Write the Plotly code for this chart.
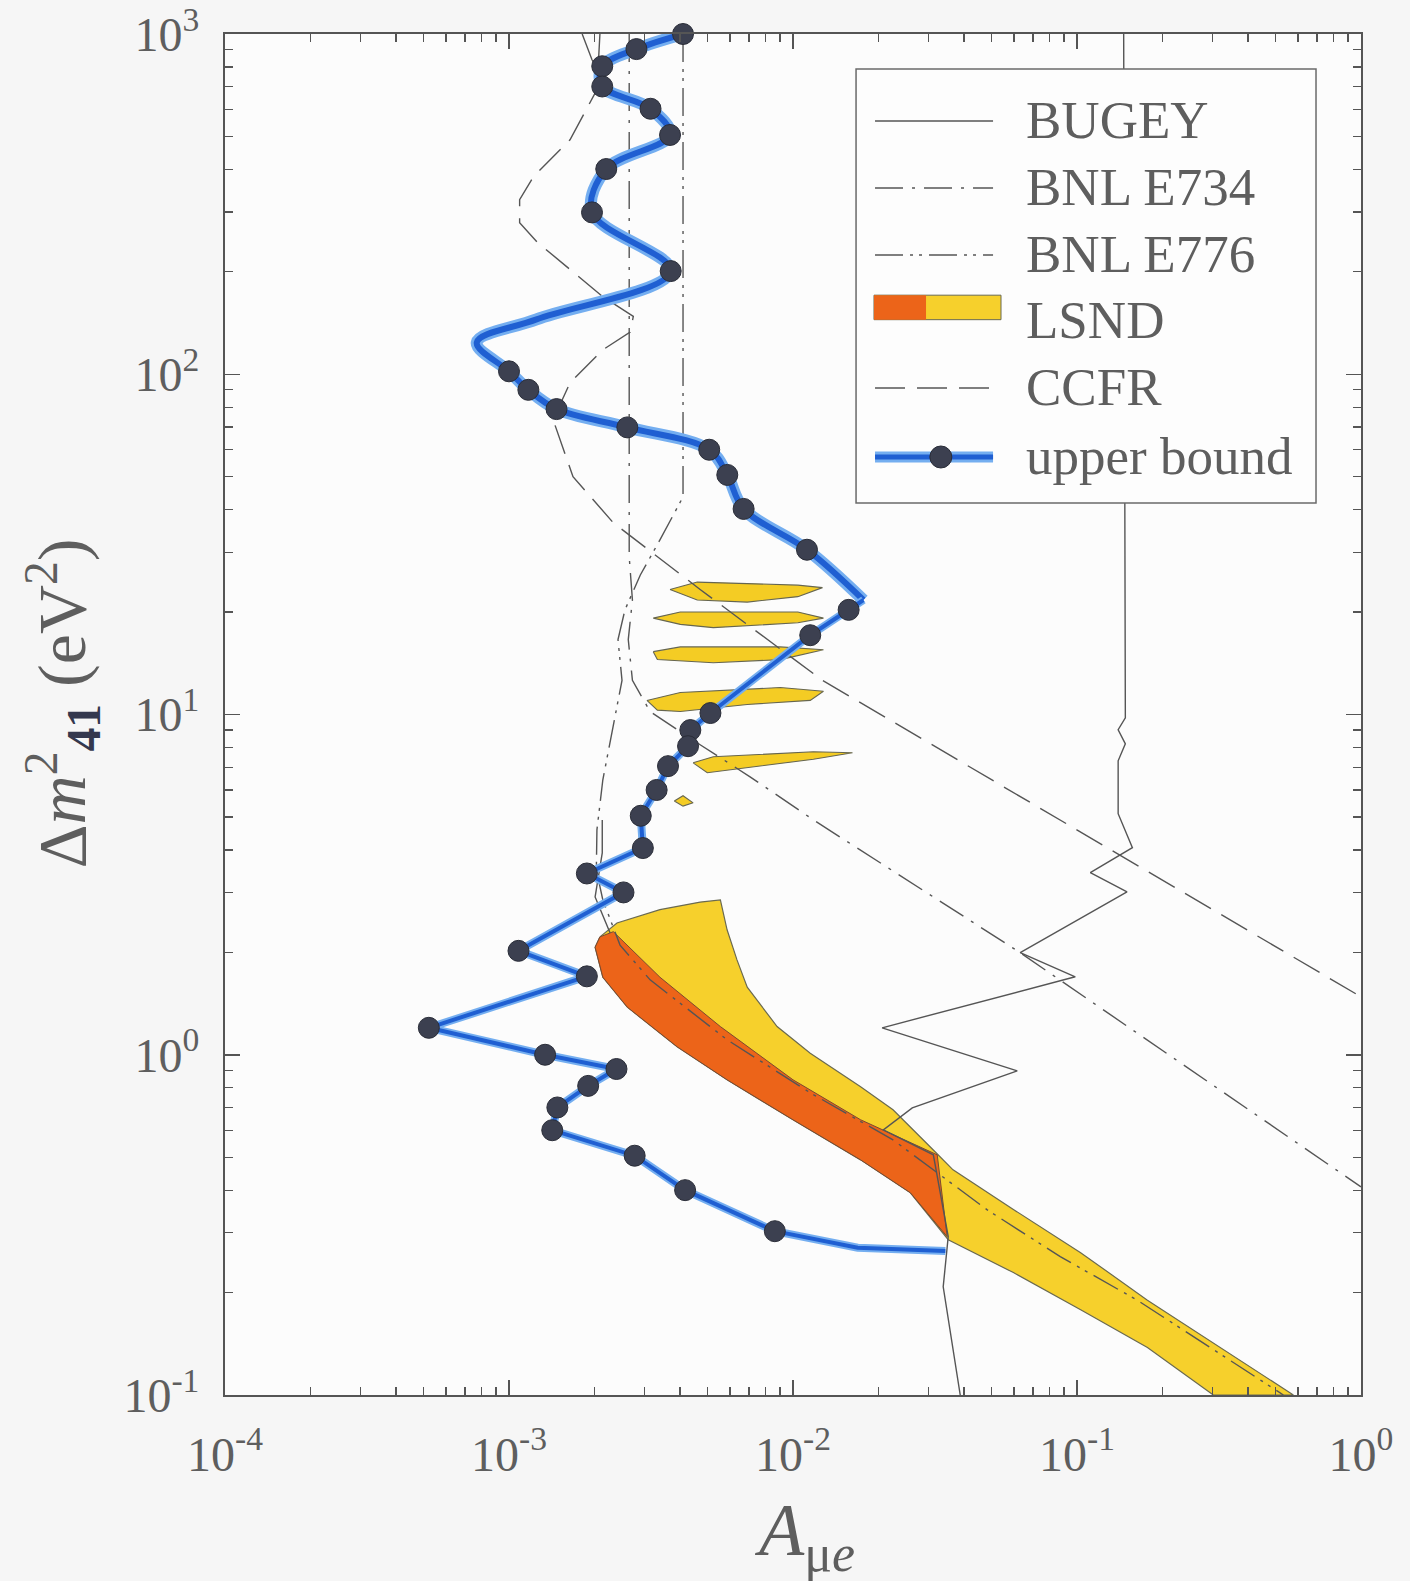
import plotly.graph_objects as go

# ---------------- axis ticks ----------------
x_tick_vals = [1e-4, 1e-3, 1e-2, 1e-1, 1e0]
x_tick_text = ["10<sup>-4</sup>", "10<sup>-3</sup>", "10<sup>-2</sup>", "10<sup>-1</sup>", "10<sup>0</sup>"]
y_tick_vals = [1e-1, 1e0, 1e1, 1e2, 1e3]
y_tick_text = ["10<sup>-1</sup>", "10<sup>0</sup>", "10<sup>1</sup>", "10<sup>2</sup>", "10<sup>3</sup>"]

legend_labels = ["BUGEY", "BNL E734", "BNL E776", "LSND", "CCFR", "upper bound"]

# ---------------- BUGEY (solid) ----------------
bugey_x = [1.81e-3, 1.96e-3, 2.08e-3, None,
           2.13e-3, 2.13e-3, 2.01e-3, 2.27e-3, None,
           0.146, 0.148, 0.1396, 0.148, 0.1396, 0.1396, 0.1567, 0.1114, 0.150,
           0.0631, 0.0986, 0.0206, 0.0616, 0.0263, 0.0208, 0.0312, 0.0352, 0.0338, 0.0388]
bugey_y = [1000, 840, 775, None,
           4.90, 3.92, 2.91, 2.28, None,
           1000, 9.78, 9.02, 8.2, 7.31, 5.11, 4.06, 3.43, 3.01,
           1.995, 1.695, 1.20, 0.897, 0.698, 0.601, 0.508, 0.292, 0.208, 0.1]

# ---------------- BNL E734 (dash-dot) ----------------
e734_x = [2.65e-3, 2.65e-3, 2.72e-3, 2.63e-3, 2.72e-3, 3.14e-3, 4.71e-3, 7.06e-3, 1.18e-2, 6.31e-2, 1.0]
e734_y = [1000, 29.1, 21.7, 16.6, 12.6, 10.2, 8.15, 6.56, 4.90, 1.995, 0.409]

# ---------------- BNL E776 (dash-dot-dot) ----------------
e776_x = [4.10e-3, 4.10e-3, 3.40e-3, 2.90e-3, 2.56e-3, 2.42e-3, 2.50e-3, 2.31e-3, 2.14e-3, 2.04e-3,
          2.03e-3, 2.14e-3, 2.46e-3, 3.14e-3, 5.86e-3, 1.15e-2, 2.25e-2, 4.83e-2, 8.73e-2, 0.163, 0.295, 0.533]
e776_y = [1000, 43.6, 32.6, 25.7, 20.3, 16.6, 12.6, 9.02, 6.43, 4.58,
          3.49, 2.85, 2.10, 1.66, 1.107, 0.773, 0.562, 0.350, 0.255, 0.190, 0.138, 0.1]

# ---------------- CCFR (dashed) ----------------
ccfr_x = [2.09e-3, 2.04e-3, 1.64e-3, 1.22e-3, 1.09e-3, 1.09e-3, 1.26e-3, 1.64e-3, 2.14e-3, 2.74e-3,
          2.67e-3, 2.14e-3, 1.64e-3, 1.43e-3, 1.68e-3, 2.33e-3, 4.71e-3, 1.27e-2, 5.37e-2, 0.272, 1.0]
ccfr_y = [1000, 686, 489, 381, 326, 279, 244, 203, 169, 148,
          133, 118, 94.4, 73.5, 50.0, 36.6, 23.3, 12.6, 6.21, 2.81, 1.48]

# ---------------- LSND regions ----------------
lsnd99_x = [2.09e-3, 2.40e-3, 3.40e-3, 4.71e-3, 5.55e-3, 5.86e-3, 6.35e-3, 6.90e-3, 8.79e-3, 1.15e-2,
            1.73e-2, 2.25e-2, 3.12e-2, 3.66e-2, 5.97e-2, 0.103, 0.177, 0.302, 0.578, 0.302,
            0.177, 0.103, 5.97e-2, 3.52e-2, 2.59e-2, 1.73e-2, 1.00e-2, 5.86e-3, 3.91e-3, 2.61e-3,
            2.14e-3, 2.01e-3, 2.09e-3]
lsnd99_y = [2.22, 2.44, 2.67, 2.81, 2.85, 2.33, 1.90, 1.58, 1.21, 1.01,
            0.805, 0.689, 0.525, 0.459, 0.351, 0.262, 0.190, 0.142, 0.1, 0.1,
            0.138, 0.178, 0.229, 0.286, 0.393, 0.491, 0.644, 0.844, 1.055, 1.38,
            1.69, 2.07, 2.22]

lsnd90_x = [2.09e-3, 2.33e-3, 3.40e-3, 5.55e-3, 1.00e-2, 1.73e-2, 3.22e-2, 3.49e-2, 2.59e-2, 1.73e-2,
            1.00e-2, 5.86e-3, 3.91e-3, 2.61e-3, 2.14e-3, 2.01e-3, 2.09e-3]
lsnd90_y = [2.22, 2.30, 1.69, 1.21, 0.844, 0.644, 0.508, 0.292, 0.393, 0.491,
            0.644, 0.844, 1.055, 1.38, 1.69, 2.07, 2.22]

island_x = [
    [3.69e-3, 4.60e-3, 1.04e-2, 1.27e-2, 1.04e-2, 6.90e-3, 4.60e-3, 3.69e-3],
    [3.22e-3, 4.01e-3, 1.04e-2, 1.28e-2, 1.04e-2, 5.24e-3, 4.01e-3, 3.22e-3],
    [3.22e-3, 4.01e-3, 9.02e-3, 1.28e-2, 9.02e-3, 5.24e-3, 3.33e-3, 3.22e-3],
    [3.06e-3, 4.01e-3, 9.02e-3, 1.28e-2, 1.15e-2, 6.90e-3, 4.01e-3, 3.33e-3, 3.06e-3],
    [4.45e-3, 5.24e-3, 1.18e-2, 1.62e-2, 1.18e-2, 6.01e-3, 4.99e-3, 4.45e-3],
    [3.82e-3, 4.10e-3, 4.45e-3, 4.10e-3, 3.82e-3],
]
island_y = [
    [23.3, 24.5, 24.0, 23.6, 22.2, 21.4, 21.7, 23.3],
    [19.2, 20.0, 20.0, 19.2, 18.6, 18.0, 18.4, 19.2],
    [15.3, 15.8, 15.8, 15.5, 14.5, 14.2, 14.5, 15.3],
    [11.0, 11.6, 12.0, 11.7, 11.0, 10.7, 10.2, 10.3, 11.0],
    [7.21, 7.51, 7.77, 7.72, 7.39, 6.87, 6.74, 7.21],
    [5.57, 5.77, 5.50, 5.38, 5.57],
]

# ---------------- upper bound (blue, with dots) ----------------
ub_x = [4.1e-3, 2.81e-3, 2.13e-3, 2.13e-3, 3.15e-3, 3.69e-3, 2.2e-3, 1.96e-3, 3.71e-3, 1.25e-3,
        7.7e-4, 1.0e-3, 1.17e-3, 1.47e-3, 2.61e-3, 5.07e-3, 5.87e-3, 6.7e-3, 1.12e-2, 1.77e-2,
        1.57e-2, 1.15e-2, 5.12e-3, 4.35e-3, 4.27e-3, 3.63e-3, 3.31e-3, 2.91e-3, 2.96e-3, 1.88e-3,
        2.53e-3, 1.08e-3, 1.88e-3, 5.22e-4, 1.34e-3, 2.39e-3, 1.9e-3, 1.48e-3, 1.42e-3, 2.77e-3,
        4.17e-3, 8.63e-3, 1.69e-2, 3.44e-2]
ub_y = [1000, 903, 804, 701, 603, 505, 401, 299, 201, 145,
        124, 102, 90, 79, 69.8, 60, 50.6, 40.2, 30.5, 21.7,
        20.3, 17.1, 10.1, 9.0, 8.07, 7.05, 6.0, 5.04, 4.05, 3.41,
        3.0, 2.02, 1.70, 1.20, 1.0, 0.908, 0.81, 0.70, 0.60, 0.505,
        0.40, 0.303, 0.271, 0.265]
ub_dot = [1, 1, 1, 1, 1, 1, 1, 1, 1, 0,
          0, 1, 1, 1, 1, 1, 1, 1, 1, 0,
          1, 1, 1, 1, 1, 1, 1, 1, 1, 1,
          1, 1, 1, 1, 1, 1, 1, 1, 1, 1,
          1, 1, 0, 0]
UB_SMOOTH_END = 19   # index where the smooth (hand-drawn) part ends

# ---------------- styles ----------------
GRAY = "#555555"
TXT = "#5e5e5e"
SERIF = "Liberation Serif, Times New Roman, serif"
YELLOW = "#f6d02c"
ORANGE = "#ec6419"
BLUE_HALO = "#74aef0"
BLUE_CORE = "#1f5fd2"
DOT = "#3c4050"
BG = "#f6f6f6"

fig = go.Figure()

# LSND regions
fig.add_trace(go.Scatter(x=lsnd99_x, y=lsnd99_y, mode="lines", fill="toself", fillcolor=YELLOW,
                         line=dict(color="#6a6a50", width=1.2), hoverinfo="skip", showlegend=False))
fig.add_trace(go.Scatter(x=lsnd90_x, y=lsnd90_y, mode="lines", fill="toself", fillcolor=ORANGE,
                         line=dict(color="#7a4a30", width=1.0), hoverinfo="skip", showlegend=False))
for ix, iy in zip(island_x, island_y):
    fig.add_trace(go.Scatter(x=ix, y=iy, mode="lines", fill="toself", fillcolor="#f4cc24",
                             line=dict(color="#666650", width=1.1), hoverinfo="skip", showlegend=False))

# exclusion curves
fig.add_trace(go.Scatter(x=bugey_x, y=bugey_y, mode="lines", connectgaps=False,
                         line=dict(color=GRAY, width=1.4), showlegend=False, name=legend_labels[0]))
fig.add_trace(go.Scatter(x=e734_x, y=e734_y, mode="lines",
                         line=dict(color=GRAY, width=1.4, dash="28px,9px,3px,9px"), showlegend=False,
                         name=legend_labels[1]))
fig.add_trace(go.Scatter(x=e776_x, y=e776_y, mode="lines",
                         line=dict(color=GRAY, width=1.4, dash="28px,7px,3px,6px,3px,7px"), showlegend=False,
                         name=legend_labels[2]))
fig.add_trace(go.Scatter(x=ccfr_x, y=ccfr_y, mode="lines",
                         line=dict(color=GRAY, width=1.4, dash="30px,12px"), showlegend=False,
                         name=legend_labels[4]))

# upper bound line (smooth upper part, straight lower part)
up_x, up_y = ub_x[:UB_SMOOTH_END + 1], ub_y[:UB_SMOOTH_END + 1]
lo_x, lo_y = ub_x[UB_SMOOTH_END:], ub_y[UB_SMOOTH_END:]
fig.add_trace(go.Scatter(x=up_x, y=up_y, mode="lines", line=dict(color=BLUE_HALO, width=12, shape="spline", smoothing=1.0),
                         showlegend=False, hoverinfo="skip", cliponaxis=False))
fig.add_trace(go.Scatter(x=up_x, y=up_y, mode="lines", line=dict(color=BLUE_CORE, width=6, shape="spline", smoothing=1.0),
                         showlegend=False, hoverinfo="skip", cliponaxis=False))
fig.add_trace(go.Scatter(x=lo_x, y=lo_y, mode="lines", line=dict(color=BLUE_HALO, width=8),
                         showlegend=False, hoverinfo="skip"))
fig.add_trace(go.Scatter(x=lo_x, y=lo_y, mode="lines", line=dict(color=BLUE_CORE, width=4),
                         showlegend=False, hoverinfo="skip"))
dot_x = [x for x, d in zip(ub_x, ub_dot) if d]
dot_y = [y for y, d in zip(ub_y, ub_dot) if d]
fig.add_trace(go.Scatter(x=dot_x, y=dot_y, mode="markers", cliponaxis=False,
                         marker=dict(color=DOT, size=21, line=dict(color="#2a2d38", width=1)),
                         showlegend=False, name=legend_labels[5]))

# ---------------- axes ----------------
minor_x = [m * 10.0 ** e for e in range(-4, 0) for m in range(2, 10)]
minor_y = [m * 10.0 ** e for e in range(-1, 3) for m in range(2, 10)]
axis_common = dict(type="log", showgrid=False, zeroline=False, showline=True, linecolor=GRAY, linewidth=2,
                   mirror="allticks", ticks="inside", ticklen=15, tickwidth=1.5, tickcolor=GRAY,
                   automargin=False, ticklabeloverflow="allow",
                   tickfont=dict(family=SERIF, size=48, color=TXT))
fig.update_xaxes(range=[-4, 0], tickmode="array", tickvals=x_tick_vals, ticktext=x_tick_text,
                 ticklabelstandoff=16,
                 minor=dict(ticks="inside", ticklen=8, tickwidth=1.2, tickcolor=GRAY, tickmode="array", tickvals=minor_x),
                 **axis_common)
fig.update_yaxes(range=[-1, 3], tickmode="array", tickvals=y_tick_vals, ticktext=y_tick_text,
                 ticklabelstandoff=14,
                 minor=dict(ticks="inside", ticklen=8, tickwidth=1.2, tickcolor=GRAY, tickmode="array", tickvals=minor_y),
                 **axis_common)

# ---------------- custom legend ----------------
L_X0, L_X1, L_Y0, L_Y1 = 0.5555, 0.9604, 0.6554, 0.9743
row_y = [0.9361, 0.8869, 0.8376, 0.7891, 0.7399, 0.6892]
S_X0, S_X1, T_X = 0.5722, 0.6761, 0.7035
shapes = [dict(type="rect", xref="paper", yref="paper", x0=L_X0, x1=L_X1, y0=L_Y0, y1=L_Y1,
               line=dict(color="#6a6a6a", width=1.5), fillcolor="#fdfdfd", layer="above")]
dashes = ["solid", "28px,9px,3px,9px", "28px,7px,3px,6px,3px,7px", None, "30px,12px", None]
for i, d in enumerate(dashes):
    if d is None:
        continue
    shapes.append(dict(type="line", xref="paper", yref="paper", x0=S_X0, x1=S_X1, y0=row_y[i], y1=row_y[i],
                       line=dict(color=GRAY, width=1.4, dash=d), layer="above"))
# LSND swatch
shapes.append(dict(type="rect", xref="paper", yref="paper", x0=0.5713, x1=0.6831, y0=row_y[3] + 0.001,
                   y1=row_y[3] + 0.019, line=dict(color="#6a6a50", width=1), fillcolor=YELLOW, layer="above"))
shapes.append(dict(type="rect", xref="paper", yref="paper", x0=0.5713, x1=0.6171, y0=row_y[3] + 0.001,
                   y1=row_y[3] + 0.019, line=dict(width=0), fillcolor=ORANGE, layer="above"))
# upper bound sample
shapes.append(dict(type="line", xref="paper", yref="paper", x0=S_X0, x1=S_X1, y0=row_y[5], y1=row_y[5],
                   line=dict(color=BLUE_HALO, width=11), layer="above"))
shapes.append(dict(type="line", xref="paper", yref="paper", x0=S_X0, x1=S_X1, y0=row_y[5], y1=row_y[5],
                   line=dict(color=BLUE_CORE, width=5), layer="above"))
shapes.append(dict(type="circle", xref="paper", yref="paper", xsizemode="pixel", ysizemode="pixel",
                   xanchor=(S_X0 + S_X1) / 2 + 0.006, yanchor=row_y[5], x0=-11, x1=11, y0=-11, y1=11,
                   fillcolor=DOT, line=dict(color="#2a2d38", width=1), layer="above"))

annotations = []
for lbl, yy in zip(legend_labels, row_y):
    annotations.append(dict(text=lbl, xref="paper", yref="paper", x=T_X, y=yy + 0.001, xanchor="left",
                            yanchor="middle", showarrow=False, font=dict(family=SERIF, size=53, color=TXT)))

# axis titles
annotations.append(dict(text="<i>A</i><sub>μ<i>e</i></sub>", xref="paper", yref="paper", x=0.5097, y=-0.103,
                        xanchor="center", yanchor="middle", showarrow=False,
                        font=dict(family=SERIF, size=74, color=TXT)))
annotations.append(dict(text="Δ<i>m</i><sup>2</sup><sub><b><span style='color:#34384e'>41</span></b></sub> (eV<sup>2</sup>)",
                        xref="paper", yref="paper", x=-0.143, y=0.508, textangle=-90,
                        xanchor="center", yanchor="middle", showarrow=False,
                        font=dict(family=SERIF, size=68, color=TXT)))

# full-window figure; the page body margin is removed after drawing
fig.update_layout(width=1410, height=1581, autosize=False,
                  margin=dict(l=225, r=49, t=34, b=186, pad=0),
                  paper_bgcolor=BG, plot_bgcolor="#fcfcfc",
                  shapes=shapes, annotations=annotations, showlegend=False)

fig.write_html("out.html", config={"displayModeBar": False, "staticPlot": True},
               post_script="document.body.style.margin='0';document.body.style.background='%s';" % BG)
